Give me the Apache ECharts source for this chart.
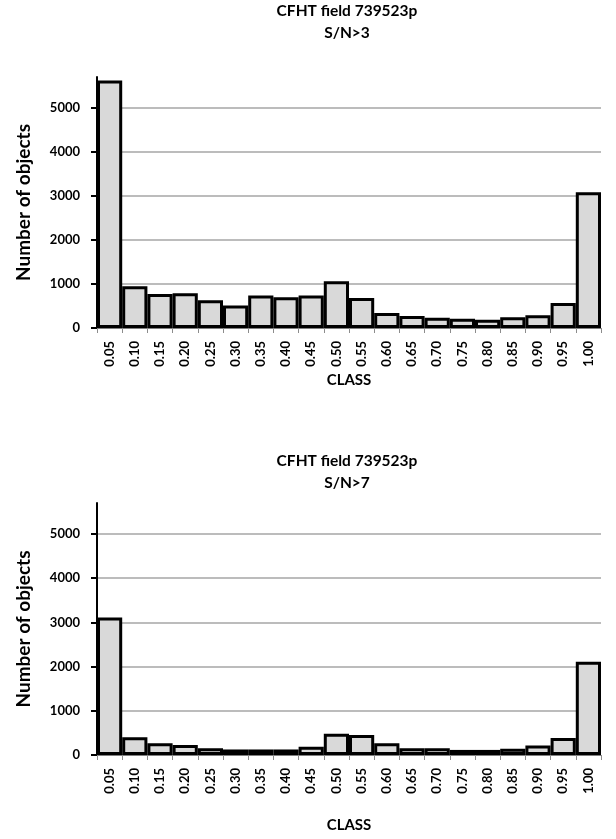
<!DOCTYPE html>
<html>
<head>
<meta charset="utf-8">
<script src="https://cdn.jsdelivr.net/npm/echarts@6/dist/echarts.min.js"></script>
<style>
html,body{margin:0;padding:0;background:#fff;}
#c{width:616px;height:839px;}
</style>
</head>
<body>
<div id="c"></div>
<script>
// Data
const categories = ['0.05','0.10','0.15','0.20','0.25','0.30','0.35','0.40','0.45','0.50',
                    '0.55','0.60','0.65','0.70','0.75','0.80','0.85','0.90','0.95','1.00'];
const countsSN3 = [5620, 950, 770, 790, 630, 510, 740, 700, 740, 1060,
                   680, 340, 270, 230, 210, 190, 245, 290, 570, 3080];
const countsSN7 = [3110, 400, 265, 225, 155, 125, 125, 125, 185, 480,
                   455, 265, 155, 155, 115, 115, 140, 215, 385, 2110];
const yTicks = [0, 1000, 2000, 3000, 4000, 5000];
const titles = ['CFHT field 739523p\nS/N>3', 'CFHT field 739523p\nS/N>7'];
const yName = 'Number of objects';
const xName = 'CLASS';
const yMax = 5700;

const FONT = 'Lato, "Open Sans", sans-serif';
const chart = echarts.init(document.getElementById('c'), null, {renderer: 'canvas'});

const gridPos = [{top: 77, height: 251}, {top: 503, height: 252}];
const titleTop = [-5, 445];
const xNameGap = [45, 63];

function xAxisFor(i) {
  return {
    type: 'category', gridIndex: i, data: categories, boundaryGap: true,
    axisLine: {show: true, lineStyle: {color: '#7f7f7f', width: 1}},
    axisTick: {show: true, alignWithLabel: false, length: 5, lineStyle: {color: '#8c8c8c', width: 1}},
    axisLabel: {rotate: 90, margin: 13, color: '#000', fontFamily: FONT, fontWeight: 'bold', fontSize: 13, interval: 0},
    name: xName, nameLocation: 'middle', nameGap: xNameGap[i],
    nameTextStyle: {color: '#000', fontFamily: FONT, fontWeight: 'bold', fontSize: 15}
  };
}
function yAxisFor(i) {
  const colors = yTicks.map(() => '#a6a6a6');
  colors.push('rgba(0,0,0,0)');
  return {
    type: 'value', gridIndex: i, min: 0, max: yMax, interval: 1000,
    axisLine: {show: true, lineStyle: {color: '#000', width: 2}},
    axisTick: {show: true, inside: false, length: 6, customValues: yTicks, lineStyle: {color: '#000', width: 2}},
    axisLabel: {margin: 17, color: '#000', fontFamily: FONT, fontWeight: 'bold', fontSize: 13, customValues: yTicks,
                formatter: v => (v % 1000 === 0 ? String(v) : '')},
    splitLine: {show: true, lineStyle: {color: colors, width: 1.5}},
    name: yName, nameLocation: 'middle', nameGap: 64,
    nameTextStyle: {color: '#000', fontFamily: FONT, fontWeight: 'bold', fontSize: 19}
  };
}
function seriesFor(i, data) {
  return {
    type: 'bar', xAxisIndex: i, yAxisIndex: i, data: data,
    barCategoryGap: '0%', barGap: '0%',
    itemStyle: {color: '#d9d9d9', borderColor: '#000', borderWidth: 3},
    emphasis: {disabled: true}, silent: true
  };
}

chart.setOption({
  animation: false,
  backgroundColor: '#fff',
  title: titles.map((t, i) => ({
    text: t, left: 342, top: titleTop[i], textAlign: 'center',
    textStyle: {color: '#000', fontFamily: FONT, fontWeight: 'bold', fontSize: 15.5, lineHeight: 22}
  })),
  grid: gridPos.map(g => ({left: 97, right: 15, top: g.top, height: g.height, containLabel: false})),
  xAxis: [xAxisFor(0), xAxisFor(1)],
  yAxis: [yAxisFor(0), yAxisFor(1)],
  series: [seriesFor(0, countsSN3), seriesFor(1, countsSN7)]
});
</script>
</body>
</html>
